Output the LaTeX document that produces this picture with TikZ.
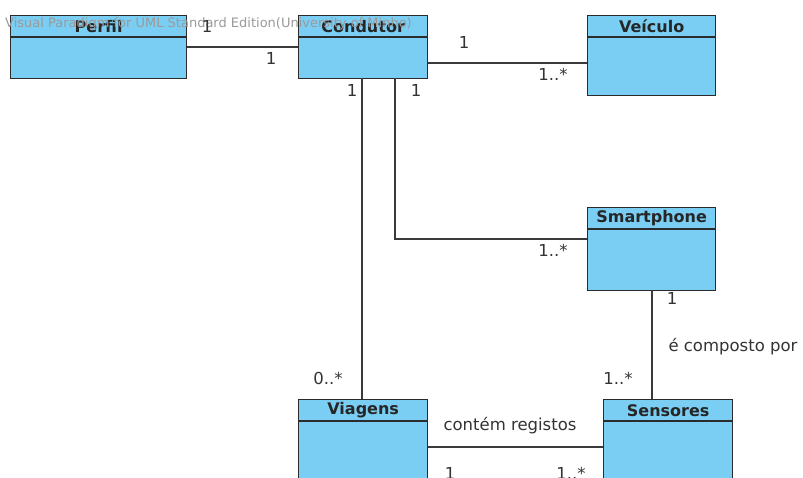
\documentclass[tikz,border=0pt]{standalone}
\usepackage{fontspec}
\setmainfont{DejaVu Sans}
\usetikzlibrary{calc}
\definecolor{boxfill}{HTML}{7ACEF4}
\definecolor{boxline}{HTML}{2B2B2B}
\definecolor{wire}{HTML}{3A3A3A}
\definecolor{mark}{HTML}{9A9A9A}
% a UML class: name, top-left corner, width, height, title
\newcommand\umlclass[6]{%
  \node[classframe, minimum width=#4pt, minimum height=#5pt, anchor=north west] (#1) at (#2,#3) {};
  \draw[classrule] ($(#1.north west)+(0,22)$) -- ($(#1.north east)+(0,22)$);
  \node[classtitle] (#1-t) at ($(#1.north)+(0,11.5)$) {#6};
}
\begin{document}
\begin{tikzpicture}[x=1pt,y=-1pt,
  classframe/.style={draw=boxline, fill=boxfill, line width=1.3pt, inner sep=0pt},
  classrule/.style={draw=boxline, line width=1.3pt},
  classtitle/.style={font=\bfseries\fontsize{16}{18}\selectfont, text=black!85, inner sep=0pt},
  assoc/.style={draw=wire, line width=1.1pt},
  mult/.style={font=\fontsize{16.5}{18}\selectfont, text=black!80, inner sep=0pt},
  wmark/.style={font=\fontsize{13}{15}\selectfont, text=mark, inner sep=0pt, anchor=west}]
\useasboundingbox (0,0) rectangle (803,478);
\clip (0,0) rectangle (803,478);
\fill[white] (0,0) rectangle (803,478);

\umlclass{perfil}{10}{15}{176}{63}{Perfil}
\umlclass{cond}{298}{15}{129}{63}{Condutor}
\umlclass{veic}{587}{15}{128}{80}{Veículo}
\umlclass{smart}{587}{207}{128}{83}{Smartphone}
\umlclass{viag}{298}{399}{129}{100}{Viagens}
\umlclass{sens}{603}{399}{129}{100}{Sensores}

\node[wmark] (wm) at (5,24) {Visual Paradigm for UML Standard Edition(University of Minho)};

% bend points of the routed associations
\coordinate (c1) at (362,78);
\coordinate (c2) at (395,78);
\coordinate (bend) at (395,239);
\coordinate (s1) at (652,290);

\draw[assoc] (perfil.east |- 0,47) -- (cond.west |- 0,47);
\draw[assoc] (cond.east |- 0,63) -- (veic.west |- 0,63);
\draw[assoc] (c1) -- (c1 |- viag.north);
\draw[assoc] (c2) -- (bend) -- (smart.west |- bend);
\draw[assoc] (s1) -- (s1 |- sens.north);
\draw[assoc] (viag.east |- 0,447) -- (sens.west |- 0,447);

\node[mult] (m1) at (207,26) {1};
\node[mult] (m2) at (271,58) {1};
\node[mult] (m3) at (464,42) {1};
\node[mult] (m4) at (553,74) {1..*};
\node[mult] (m5) at (352,90) {1};
\node[mult] (m6) at (416,90) {1};
\node[mult] (m7) at (553,250) {1..*};
\node[mult] (m8) at (328,378) {0..*};
\node[mult] (m9) at (672,298) {1};
\node[mult] (m10) at (733,347) {é composto por};
\node[mult] (m11) at (618,378) {1..*};
\node[mult] (m12) at (510,426) {contém registos};
\node[mult] (m13) at (450,473) {1};
\node[mult] (m14) at (571,473) {1..*};
\end{tikzpicture}
\end{document}
